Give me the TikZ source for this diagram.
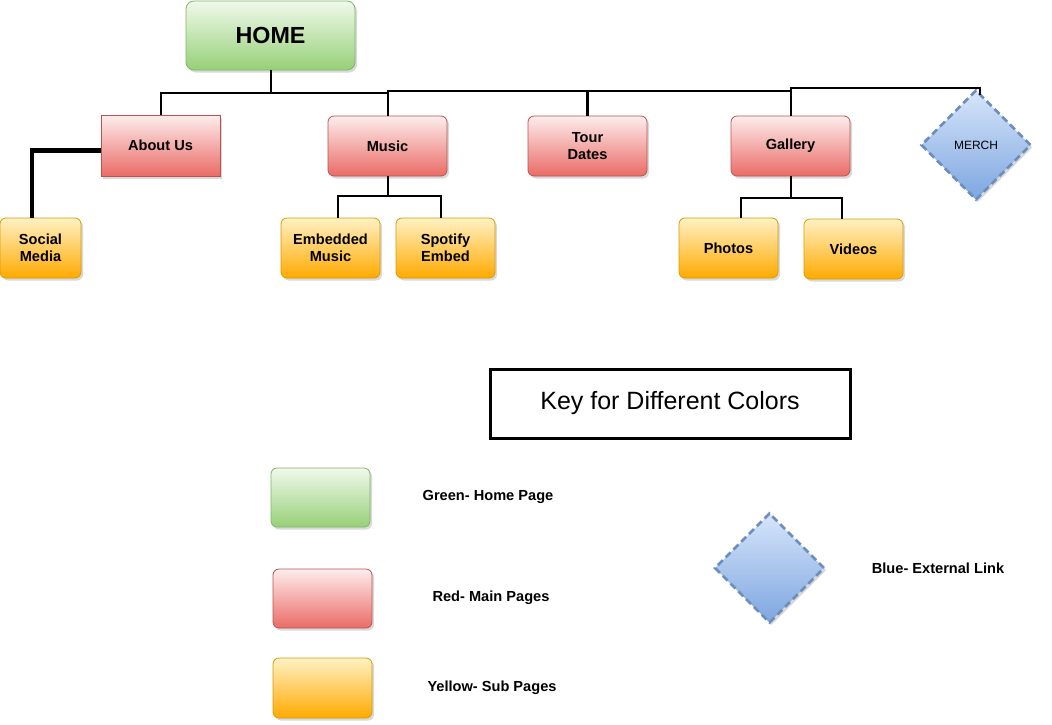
\documentclass[tikz,border=0pt]{standalone}
\usepackage{fontspec}
\setmainfont{Liberation Sans}
\usetikzlibrary{shapes.geometric,shadows}
\definecolor{grnT}{HTML}{F0F9EC}\definecolor{grnM}{HTML}{B2DC9B}\definecolor{grnB}{HTML}{97D077}\definecolor{grnD}{HTML}{82B366}
\definecolor{redT}{HTML}{FDEDED}\definecolor{redM}{HTML}{F09490}\definecolor{redB}{HTML}{EA6B66}\definecolor{redD}{HTML}{B85450}
\definecolor{yelT}{HTML}{FFF1C4}\definecolor{yelM}{HTML}{FFC033}\definecolor{yelB}{HTML}{FFAA00}\definecolor{yelD}{HTML}{D79B00}
\definecolor{bluT}{HTML}{D6E5FA}\definecolor{bluB}{HTML}{7EA6E0}\definecolor{bluD}{HTML}{6C8EBF}
\tikzset{
  shad/.style={drop shadow={opacity=0.25,shadow xshift=2pt,shadow yshift=-2.5pt,fill=black!60}},
  pagebox/.style={draw,shad,minimum width=99pt,minimum height=60pt,rounded corners=6pt,inner sep=2pt,align=center,
     font=\fontsize{14.6}{17.5}\selectfont\bfseries,line width=0.8pt},
  greenbox/.style={pagebox,draw=grnD,top color=grnT,middle color=grnM,bottom color=grnB},
  redbox/.style={pagebox,draw=redD,top color=redT,middle color=redM,bottom color=redB},
  yelbox/.style={pagebox,draw=yelD,top color=yelT,middle color=yelM,bottom color=yelB},
  extlink/.style={diamond,shad,draw=bluD,top color=bluT,bottom color=bluB,line width=2.6pt,dash pattern=on 7pt off 4pt,
     minimum width=110pt,minimum height=110pt,inner sep=0pt,font=\fontsize{12}{14}\selectfont},
  conn/.style={line width=2pt,black},
  legtext/.style={font=\fontsize{14.6}{16}\selectfont\bfseries,inner sep=0pt}
}
\begin{document}
\begin{tikzpicture}[x=1pt,y=-1pt]
\useasboundingbox (0,0) rectangle (1052,724);
% main nodes
\node[greenbox,minimum width=169pt,minimum height=69pt,rounded corners=8pt,font=\fontsize{23.3}{26}\selectfont\bfseries] (home) at (270.5,35.5) {HOME};
\node[redbox,minimum width=119pt,minimum height=61pt,rounded corners=0pt] (about) at (160.5,145.5) {About Us};
\node[redbox,minimum width=119pt] (music) at (387.5,146) {Music};
\node[redbox,minimum width=119pt] (tour) at (587.5,146) {Tour\\Dates};
\node[redbox,minimum width=119pt] (gallery) at (790.5,146) {Gallery};
\node[extlink] (merch) at (976,145) {MERCH};
\node[yelbox,minimum width=81pt] (social) at (40.5,248) {Social\\Media};
\node[yelbox] (emb) at (330.5,248) {Embedded\\Music};
\node[yelbox] (spot) at (445.5,248) {Spotify\\Embed};
\node[yelbox] (photos) at (728.5,248) {Photos};
\node[yelbox] (videos) at (853.5,249) {Videos};
% bus coordinates
\coordinate (hb) at (272,93);
\coordinate (mtop) at (791,91);
\coordinate (mr) at (980,88);
\coordinate (mb) at (388,196);
\coordinate (gb) at (791,198);
% connectors
\draw[conn] (home.south) -- (home.south |- hb);
\draw[conn] (about.north) |- (music.north |- hb);
\draw[conn] (music.north) |- (mtop);
\draw[conn] (gallery.north) |- (mr) -- ([xshift=4pt,yshift=-6pt]merch.north);
\draw[line width=3.8pt] (tour.north) -- (tour.north |- mtop);
\draw[line width=4.8pt] ([yshift=-5pt]about.west) -| ([xshift=-8.5pt]social.north);
\draw[conn] (music.south) -- (music.south |- mb);
\draw[conn] ([xshift=7.5pt]emb.north) |- (music.south |- mb) -| ([xshift=-4.5pt]spot.north);
\draw[conn] (gallery.south) -- (gallery.south |- gb);
\draw[conn] ([xshift=12.5pt]photos.north) |- (gallery.south |- gb) -| ([xshift=-12pt]videos.north);
% key
\node[draw,line width=3pt,minimum width=360pt,minimum height=69pt,font=\fontsize{25}{28}\selectfont] (key) at (670,403.5) {Key for Different Colors};
\node[greenbox,minimum height=59pt] (lg) at (320.5,497.5) {};
\node[redbox,minimum height=59pt] (lr) at (322.5,598.5) {};
\node[yelbox] (ly) at (322.5,688) {};
\node[extlink] (lb) at (769.5,568) {};
\node[legtext] (tg) at (488,497) {Green- Home Page};
\node[legtext] (tr) at (491,598) {Red- Main Pages};
\node[legtext] (ty) at (492,688) {Yellow- Sub Pages};
\node[legtext] (tb) at (938,568) {Blue- External Link};
\end{tikzpicture}
\end{document}
